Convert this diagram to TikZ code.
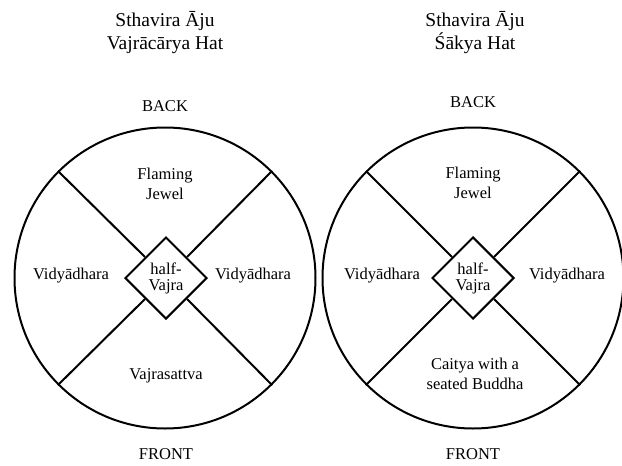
\documentclass[tikz,border=0pt]{standalone}
\usepackage{fontspec}
\setmainfont{Liberation Serif}
\usetikzlibrary{shapes.geometric}
\tikzset{
  hat/.style={circle,draw,line width=2pt,minimum size=301pt,inner sep=0pt},
  dia/.style={diamond,draw,line width=2pt,minimum size=82pt,inner sep=0pt,align=center,font=\fontsize{16.5}{18}\selectfont},
  lbl/.style={align=center,inner sep=0pt,font=\fontsize{16.5}{19.5}\selectfont},
  ttl/.style={align=center,inner sep=0pt,font=\fontsize{19.5}{23}\selectfont},
  spoke/.style={line width=2pt}
}
\begin{document}
\begin{tikzpicture}[x=1pt,y=-1pt]
\useasboundingbox (0,0) rectangle (622,466);
% left hat
\node[hat] (c1) at (165,278) {};
\node[dia] (d1) at (166,278) {half-\\[-2pt]Vajra};
\foreach \a in {45,135,225,315} \draw[spoke] (c1.\a) -- (d1.\a);
\node[ttl] (t1) at (165,33) {Sthavira Āju\\Vajrācārya Hat};
\node[lbl] (b1) at (165,106) {BACK};
\node[lbl] (f1) at (165,184) {Flaming\\Jewel};
\node[lbl] (l1) at (71,276) {Vidyādhara};
\node[lbl] (r1) at (253,276) {Vidyādhara};
\node[lbl] (s1) at (166,376) {Vajrasattva};
\node[lbl] (fr1) at (166,454) {FRONT};
% right hat
\node[hat] (c2) at (473,278) {};
\node[dia] (d2) at (473,278) {half-\\[-2pt]Vajra};
\foreach \a in {45,135,225,315} \draw[spoke] (c2.\a) -- (d2.\a);
\node[ttl] (t2) at (475,33) {Sthavira Āju\\Śākya Hat};
\node[lbl] (b2) at (473,102) {BACK};
\node[lbl] (f2) at (473,183) {Flaming\\Jewel};
\node[lbl] (l2) at (382,276) {Vidyādhara};
\node[lbl] (r2) at (567,276) {Vidyādhara};
\node[lbl] (s2) at (475,374) {Caitya with a\\seated Buddha};
\node[lbl] (fr2) at (473,454) {FRONT};
\end{tikzpicture}
\end{document}
